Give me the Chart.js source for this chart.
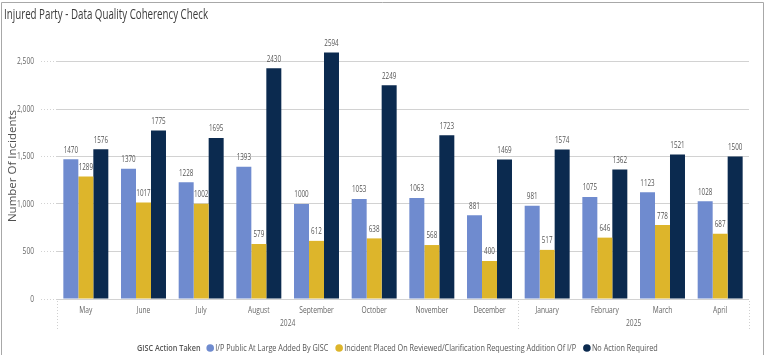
<!DOCTYPE html>
<html>
<head>
<meta charset="utf-8">
<script src="https://cdn.jsdelivr.net/npm/chart.js@4.4.1/dist/chart.umd.min.js"></script>
<style>
  html, body { margin: 0; padding: 0; background: #ffffff; }
  #wrap { width: 768px; height: 355px; position: relative; }
</style>
</head>
<body>
<div id="wrap"><canvas id="c" width="768" height="355"></canvas></div>
<script>
const chartTitle = "Injured Party - Data Quality Coherency Check";
const yAxisTitle = "Number Of Incidents";
const legendTitle = "GISC Action Taken";
const months = ["May", "June", "July", "August", "September", "October", "November", "December", "January", "February", "March", "April"];
const years = [
  { label: "2024", from: 0, to: 7 },
  { label: "2025", from: 8, to: 11 }
];
const seriesNames = [
  "I/P Public At Large Added By GISC",
  "Incident Placed On Reviewed/Clarification Requesting Addition Of I/P",
  "No Action Required"
];
const publicAtLarge = [1470, 1370, 1228, 1393, 1000, 1053, 1063, 881, 981, 1075, 1123, 1028];
const placedOnReviewed = [1289, 1017, 1002, 579, 612, 638, 568, 400, 517, 646, 778, 687];
const noActionRequired = [1576, 1775, 1695, 2430, 2594, 2249, 1723, 1469, 1574, 1362, 1521, 1500];
const yTicks = [0, 500, 1000, 1500, 2000, 2500];

const colors = ["#6F8BCF", "#DDB52B", "#0B2A4F"];
const FONT = "'Open Sans', sans-serif";
const SX = 0.74;

function drawText(ctx, text, x, y, font, color, align, sx, baseline) {
  ctx.save();
  ctx.font = font;
  ctx.fillStyle = color;
  ctx.textAlign = align || 'left';
  ctx.textBaseline = baseline || 'middle';
  ctx.translate(x, y);
  ctx.scale(sx, 1);
  ctx.fillText(text, 0, 0);
  ctx.restore();
}

const decorPlugin = {
  id: 'decor',
  beforeDraw(chart) {
    const ctx = chart.ctx;
    ctx.save();
    ctx.fillStyle = '#ffffff';
    ctx.fillRect(0, 0, chart.width, chart.height);
    ctx.strokeStyle = '#a8a8a8';
    ctx.lineWidth = 1;
    ctx.beginPath();
    ctx.moveTo(1.5, 360);
    ctx.lineTo(1.5, 2.5);
    ctx.lineTo(763.5, 2.5);
    ctx.lineTo(763.5, 360);
    ctx.stroke();
    // title, fitted to the reference width
    const tFont = "14.5px " + FONT;
    ctx.font = tFont;
    const tw = ctx.measureText(chartTitle).width;
    ctx.restore();
    drawText(ctx, chartTitle, 4, 18.5, tFont, '#3a3a3a', 'left', 204 / tw, 'alphabetic');
  },
  afterDraw(chart) {
    const ctx = chart.ctx;
    const x = chart.scales.x;
    const y = chart.scales.y;
    const area = chart.chartArea;
    const step = (area.right - area.left) / months.length;
    ctx.save();
    ctx.strokeStyle = '#d0d0d0';
    ctx.setLineDash([1, 2]);
    ctx.lineWidth = 1;
    const seps = [area.left, area.left + step * 8, area.right];
    seps.forEach(sx => {
      ctx.beginPath();
      ctx.moveTo(Math.round(sx) + 0.5, area.bottom + 2);
      ctx.lineTo(Math.round(sx) + 0.5, area.bottom + 32);
      ctx.stroke();
    });
    ctx.restore();
    // month labels
    months.forEach((m, i) => {
      drawText(ctx, m, x.getPixelForValue(i), area.bottom + 11, "9px " + FONT, '#666666', 'center', SX);
    });
    // year labels
    years.forEach(yr => {
      const cx = (x.getPixelForValue(yr.from) + x.getPixelForValue(yr.to)) / 2;
      drawText(ctx, yr.label, cx, area.bottom + 24, "9px " + FONT, '#666666', 'center', SX);
    });
    // y tick labels
    y.ticks.forEach(t => {
      drawText(ctx, t.value.toLocaleString('en-US'), 34, y.getPixelForValue(t.value), "9px " + FONT, '#666666', 'right', SX);
    });
    // legend
    const ly = 348;
    const bold = "600 9.5px " + FONT;
    const reg = "9.5px " + FONT;
    ctx.save();
    ctx.font = bold;
    const titleW = ctx.measureText(legendTitle).width;
    ctx.font = reg;
    const widths = chart.data.datasets.map(ds => ctx.measureText(ds.label).width);
    ctx.restore();
    const gapAfterTitle = 8, dotW = 12, gapItem = 6;
    let natural = titleW + gapAfterTitle;
    widths.forEach(w => { natural += dotW + w + gapItem; });
    const lsx = 522 / natural;
    let lx = 137;
    drawText(ctx, legendTitle, lx, ly, bold, '#555555', 'left', lsx);
    lx += (titleW + gapAfterTitle) * lsx;
    chart.data.datasets.forEach((ds, i) => {
      ctx.save();
      ctx.fillStyle = ds.backgroundColor;
      ctx.beginPath();
      ctx.arc(lx + 3.5, ly, 3.8, 0, Math.PI * 2);
      ctx.fill();
      ctx.restore();
      lx += 8.5;
      drawText(ctx, ds.label, lx, ly, reg, '#555555', 'left', lsx);
      lx += (widths[i] + gapItem) * lsx + (dotW - 8.5) * lsx;
    });
  },
  afterDatasetsDraw(chart) {
    const ctx = chart.ctx;
    chart.data.datasets.forEach((ds, di) => {
      const meta = chart.getDatasetMeta(di);
      meta.data.forEach((bar, i) => {
        drawText(ctx, String(ds.data[i]), bar.x, bar.y - 9, "8.5px " + FONT, '#555555', 'center', SX);
      });
    });
  }
};

new Chart(document.getElementById('c'), {
  type: 'bar',
  data: {
    labels: months,
    datasets: [
      { label: seriesNames[0], data: publicAtLarge, backgroundColor: colors[0] },
      { label: seriesNames[1], data: placedOnReviewed, backgroundColor: colors[1] },
      { label: seriesNames[2], data: noActionRequired, backgroundColor: colors[2] }
    ]
  },
  options: {
    responsive: false,
    animation: false,
    devicePixelRatio: 1,
    layout: { padding: { left: 4, right: 19, top: 33, bottom: 0 } },
    datasets: { bar: { barPercentage: 1.0, categoryPercentage: 0.78 } },
    plugins: {
      legend: { display: false },
      title: { display: false },
      tooltip: { enabled: false }
    },
    scales: {
      x: {
        offset: true,
        grid: { display: false },
        border: { display: false },
        ticks: { display: false },
        afterFit(scale) { scale.height = 56; }
      },
      y: {
        min: 0,
        max: 2800,
        afterBuildTicks(scale) { scale.ticks = yTicks.map(v => ({ value: v })); },
        afterFit(scale) { scale.width = 53; },
        border: { display: false },
        grid: {
          color: '#d2d2d2',
          lineWidth: 1,
          borderDash: [1, 2],
          drawTicks: true,
          tickLength: 16,
          tickColor: '#d2d2d2',
          tickBorderDash: [1, 2]
        },
        ticks: { display: false },
        title: {
          display: true,
          text: yAxisTitle,
          color: '#505050',
          font: { family: FONT, size: 11.5 },
          padding: { top: 2, bottom: 0 }
        }
      }
    }
  },
  plugins: [decorPlugin]
});
</script>
</body>
</html>
